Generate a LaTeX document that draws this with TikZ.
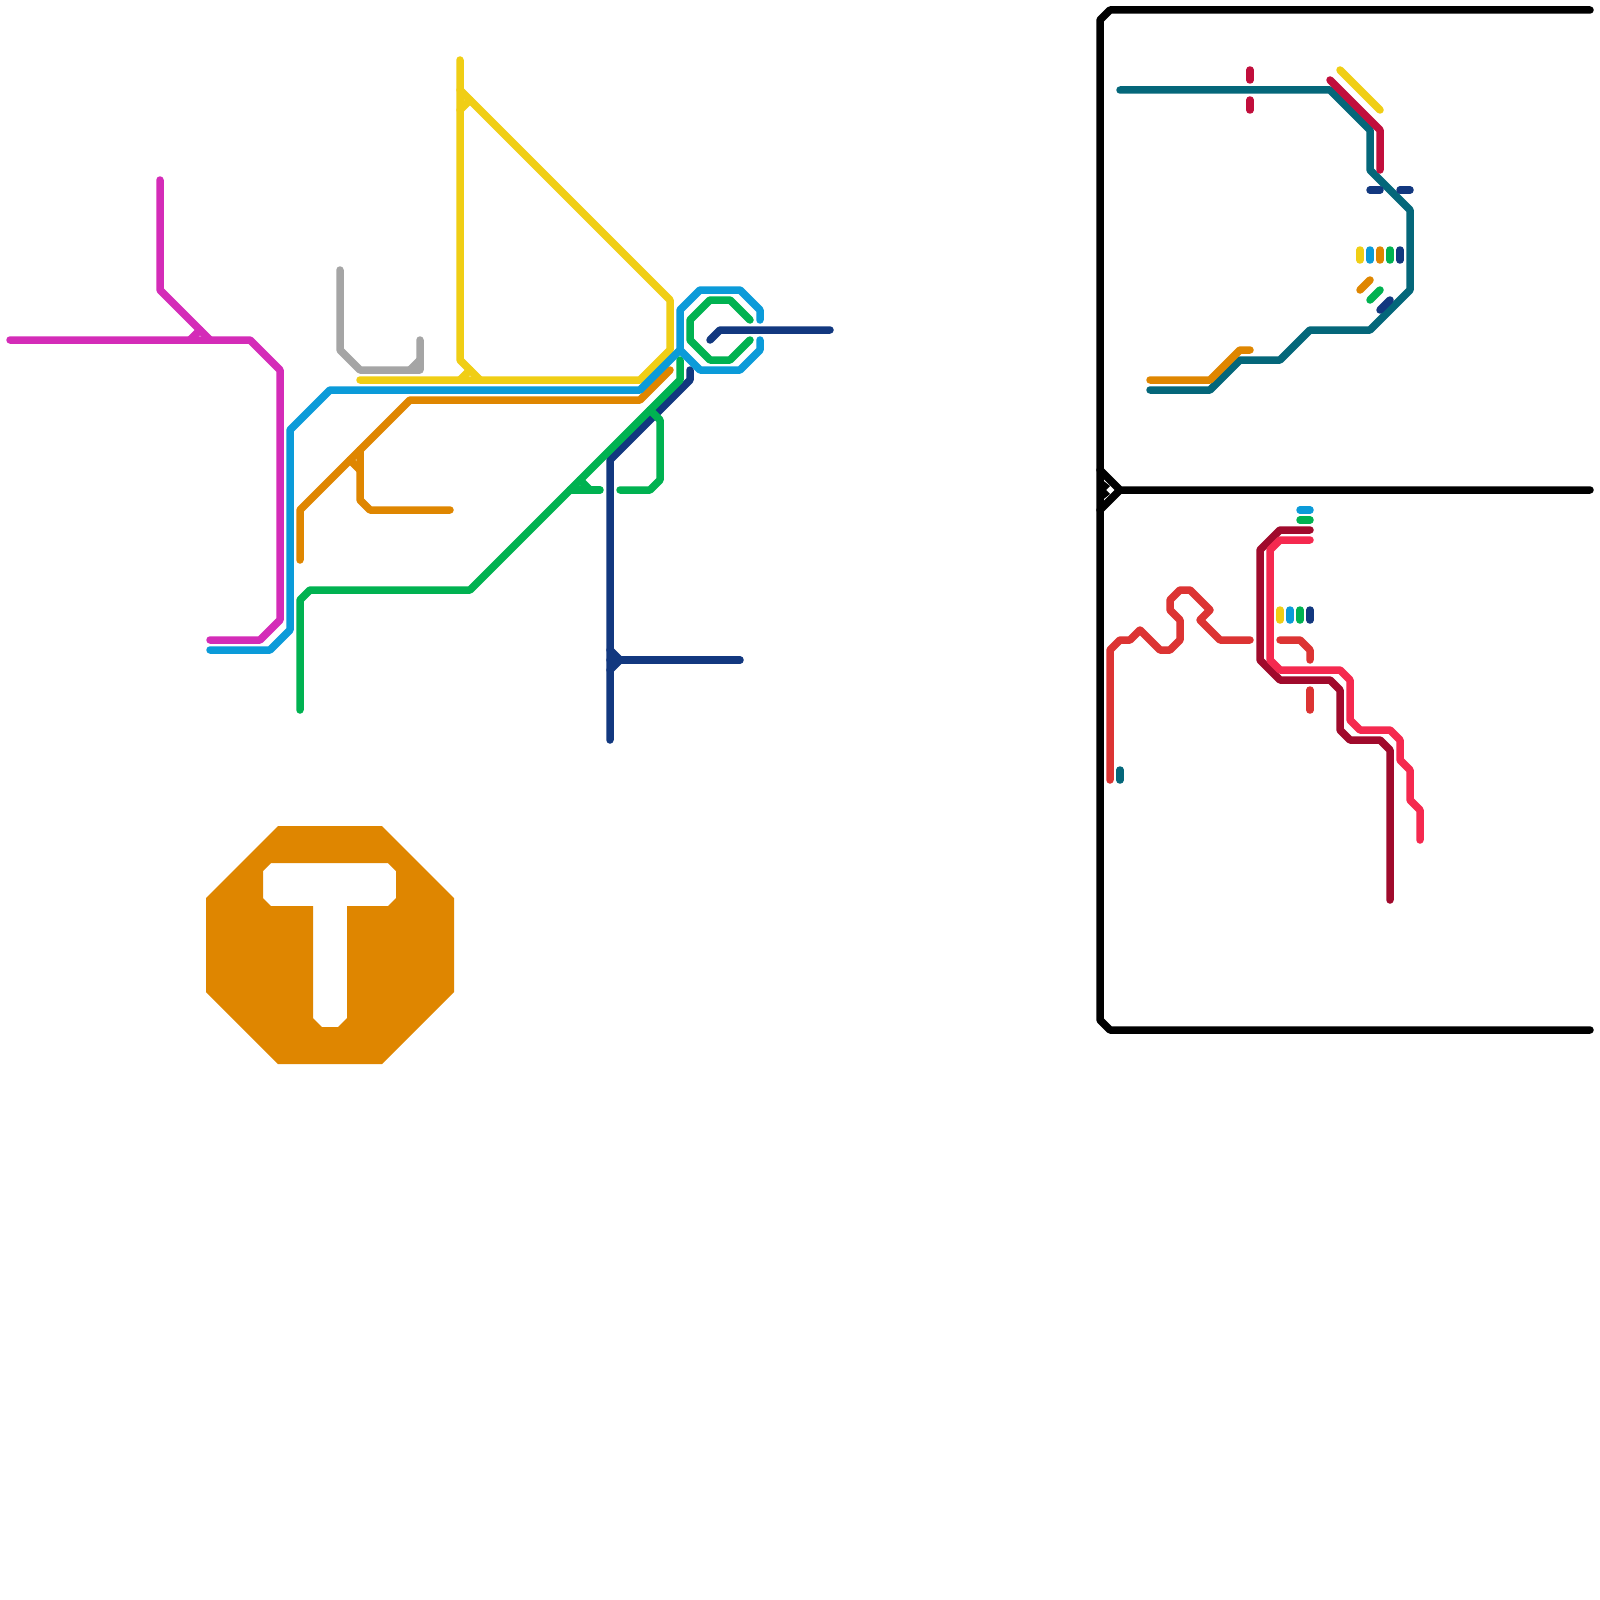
\documentclass[tikz,border=0pt]{standalone}
\definecolor{cMag}{HTML}{D42CB8}
\definecolor{cGrey}{HTML}{A5A5A5}
\definecolor{cYel}{HTML}{F0CE15}
\definecolor{cBlue}{HTML}{0B9BD9}
\definecolor{cOra}{HTML}{DF8600}
\definecolor{cGre}{HTML}{00B251}
\definecolor{cNav}{HTML}{12387F}
\definecolor{cTeal}{HTML}{04677A}
\definecolor{cCri}{HTML}{C10E3C}
\definecolor{cRed}{HTML}{DC3433}
\definecolor{cDrk}{HTML}{A00A2C}
\definecolor{cPnk}{HTML}{F5294F}
\tikzset{route/.style={line width=7.5pt,line cap=round,line join=round},
 frame/.style={route,line width=7.5pt,black}}
\begin{document}
\begin{tikzpicture}[x=1pt,y=-1pt]
\useasboundingbox (0,0) rectangle (1600,1600);
\fill[white] (0,0) rectangle (1600,1600);
% magenta
\draw[route,cMag] (10,340)--(250,340)--(280,370)--(280,620)--(260,640)--(210,640);
\draw[route,cMag] (160,180)--(160,290)--(210,340);
\draw[route,cMag] (190,340)--(200,330);
% grey
\draw[route,cGrey] (340,270)--(340,350)--(360,370)--(420,370)--(420,340);
\draw[route,cGrey] (410,370)--(420,360);
% orange
\draw[route,cOra] (300,560)--(300,510)--(410,400)--(640,400)--(670,370);
\draw[route,cOra] (360,450)--(360,500)--(370,510)--(450,510);
\draw[route,cOra] (350,460)--(360,470);
% yellow
\draw[route,cYel] (460,60)--(460,360)--(480,380);
\draw[route,cYel] (360,380)--(640,380)--(670,350)--(670,300)--(460,90);
\draw[route,cYel] (460,110)--(470,100);
\draw[route,cYel] (460,380)--(470,370);
% navy
\draw[route,cNav] (690,370)--(690,380)--(610,460)--(610,740);
\draw[route,cNav] (610,660)--(740,660);
\draw[route,cNav] (610,650)--(620,660)--(610,670);
\draw[route,cNav] (710,340)--(720,330)--(830,330);
% green
\draw[route,cGre] (300,710)--(300,600)--(310,590)--(470,590)--(680,380)--(680,360);
\draw[route,cGre] (570,490)--(600,490);
\draw[route,cGre] (580,480)--(590,490);
\draw[route,cGre] (620,490)--(650,490)--(660,480)--(660,420)--(650,410);
\draw[route,cGre] (750,320)--(730,300)--(710,300)--(690,320)--(690,340)--(710,360)--(730,360)--(750,340);
% blue
\draw[route,cBlue] (210,650)--(270,650)--(290,630)--(290,430)--(330,390)--(640,390)--(680,350)--(680,310)--(700,290)--(740,290)--(760,310)--(760,320);
\draw[route,cBlue] (680,350)--(700,370)--(740,370)--(760,350)--(760,340);
% logo
\fill[cOra,even odd rule] (278,826)--(382,826)--(454,898)--(454,992)--(382,1064)--(278,1064)--(206,992)--(206,898)--cycle
 (271,863)--(388,863)--(396,871)--(396,898)--(388,906)--(347,906)--(347,1018)--(338,1027)--(322,1027)--(313,1018)--(313,906)--(271,906)--(263,898)--(263,871)--cycle;
% frame
\draw[frame] (1590,10)--(1110,10)--(1100,20)--(1100,1020)--(1110,1030)--(1590,1030);
\draw[frame] (1590,490)--(1120,490)--(1100,470);
\draw[frame] (1120,490)--(1100,510);
\fill[black] (1100,478)--(1110,486)--(1106,490)--(1110,494)--(1100,502)--cycle;
% teal
\draw[route,cTeal] (1120,90)--(1330,90)--(1370,130)--(1370,170)--(1410,210)--(1410,290)--(1370,330)--(1310,330)--(1280,360)--(1240,360)--(1210,390)--(1150,390);
\draw[route,cTeal] (1120,770)--(1120,780);
% crimson
\draw[route,cCri] (1330,80)--(1380,130)--(1380,170);
\draw[route,cCri] (1250,70)--(1250,80);
\draw[route,cCri] (1250,100)--(1250,110);
% upper right small pieces
\draw[route,cYel] (1340,70)--(1380,110);
\draw[route,cNav] (1370,190)--(1380,190);
\draw[route,cNav] (1400,190)--(1410,190);
\draw[route,cYel] (1360,250)--(1360,260);
\draw[route,cBlue] (1370,250)--(1370,260);
\draw[route,cOra] (1380,250)--(1380,260);
\draw[route,cGre] (1390,250)--(1390,260);
\draw[route,cNav] (1400,250)--(1400,260);
\draw[route,cOra] (1360,290)--(1370,280);
\draw[route,cGre] (1370,300)--(1380,290);
\draw[route,cNav] (1380,310)--(1390,300);
\draw[route,cOra] (1150,380)--(1210,380)--(1240,350)--(1250,350);
% red
\draw[route,cRed] (1110,780)--(1110,650)--(1120,640)--(1130,640)--(1140,630)--(1160,650)--(1170,650)--(1180,640)--(1180,620)--(1170,610)--(1170,600)--(1180,590)--(1190,590)--(1210,610)--(1200,620)--(1220,640)--(1250,640);
\draw[route,cRed] (1280,640)--(1300,640)--(1310,650)--(1310,660);
\draw[route,cRed] (1310,690)--(1310,710);
% dark red, pink
\draw[route,cDrk] (1310,530)--(1280,530)--(1260,550)--(1260,660)--(1280,680)--(1330,680)--(1340,690)--(1340,730)--(1350,740)--(1380,740)--(1390,750)--(1390,900);
\draw[route,cPnk] (1310,540)--(1280,540)--(1270,550)--(1270,660)--(1280,670)--(1340,670)--(1350,680)--(1350,720)--(1360,730)--(1390,730)--(1400,740)--(1400,760)--(1410,770)--(1410,800)--(1420,810)--(1420,840);
\draw[route,cBlue] (1300,510)--(1310,510);
\draw[route,cGre] (1300,520)--(1310,520);
\draw[route,cYel] (1280,610)--(1280,620);
\draw[route,cBlue] (1290,610)--(1290,620);
\draw[route,cGre] (1300,610)--(1300,620);
\draw[route,cNav] (1310,610)--(1310,620);
\end{tikzpicture}
\end{document}
